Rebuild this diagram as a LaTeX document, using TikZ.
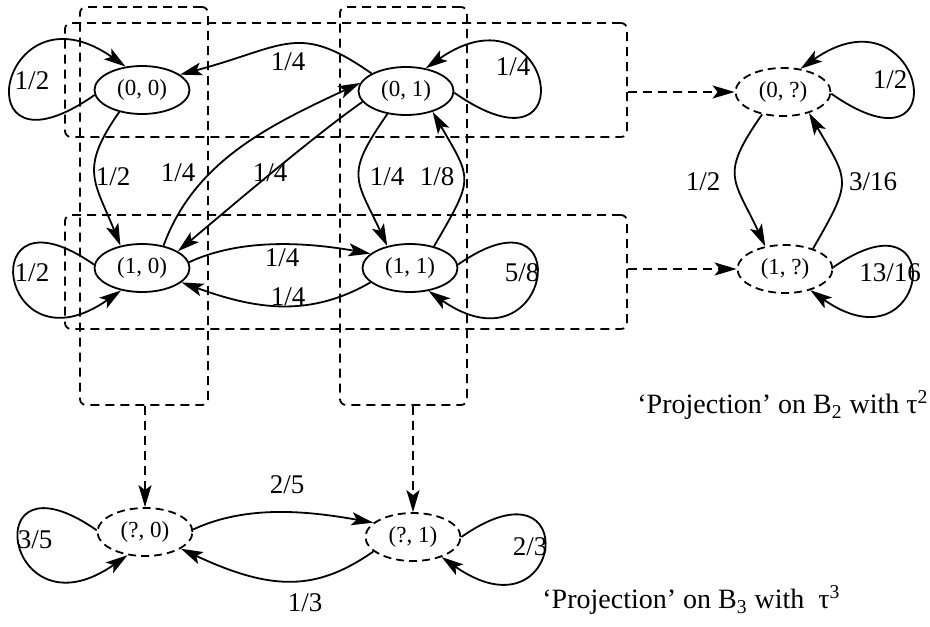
\documentclass[tikz,border=0pt]{standalone}
\usepackage{fontspec}
\setmainfont{Liberation Serif}
\usetikzlibrary{arrows.meta,shapes.geometric}

\tikzset{
	stnode/.style={draw, ellipse, line width=0.9pt, minimum width=47.5pt, minimum height=24pt,
		inner sep=0pt, font=\fontsize{11.5}{13}\selectfont},
	prjnode/.style={stnode, dash pattern=on 4pt off 2.5pt},
	trans/.style={line width=0.9pt, -{Stealth[length=11pt,width=6.5pt,inset=2.5pt]}},
	prjline/.style={line width=0.9pt, dash pattern=on 4.5pt off 3pt,
		-{Stealth[length=11pt,width=6.5pt,inset=2.5pt]}},
	grpbox/.style={draw, line width=0.9pt, dash pattern=on 4.5pt off 3pt, rounded corners=3pt, inner sep=0pt},
	lbl/.style={font=\fontsize{13.5}{15}\selectfont, inner sep=0pt},
	caption/.style={font=\fontsize{14}{16}\selectfont, inner sep=0pt, anchor=west},
}

\begin{document}
\begin{tikzpicture}[x=0.5pt, y=0.5pt]
	\useasboundingbox (0,0) rectangle (930,-626);

	% dashed groups
	\node[grpbox, minimum width=281pt, minimum height=57pt] (row0) at (346,-80) {};
	\node[grpbox, minimum width=281pt, minimum height=57pt] (row1) at (346,-272) {};
	\node[grpbox, minimum width=64pt, minimum height=199pt] (col0) at (144,-206) {};
	\node[grpbox, minimum width=63.5pt, minimum height=199pt] (col1) at (403.5,-206) {};

	% states
	\node[stnode] (n00) at (142,-90) {(0, 0)};
	\node[stnode] (n01) at (406,-91) {(0, 1)};
	\node[stnode] (n10) at (142,-268) {(1, 0)};
	\node[stnode] (n11) at (410,-268) {(1, 1)};
	\node[prjnode] (p0) at (783,-92) {(0, ?)};
	\node[prjnode] (p1) at (785,-269) {(1, ?)};
	\node[prjnode] (q0) at (145,-532) {(?, 0)};
	\node[prjnode] (q1) at (413,-537) {(?, 1)};

	% projections
	\draw[prjline] (row0.east |- p0.west) -- (p0.west);
	\draw[prjline] (row1.east |- p1.west) -- (p1.west);
	\draw[prjline] (col0.south -| q0.north) -- (q0.north);
	\draw[prjline] (col1.south -| q1.north) -- (q1.north);

	% full chain
	\draw[trans] (n00.186) .. controls +(215:165) and +(145:155) .. (n00.125);
	\draw[trans] (n01.153) .. controls +(145:90) and +(15:110) .. (n00.22);
	\draw[trans] (n00.224) .. controls +(235:70) and +(112:70) .. (n10.134);
	\draw[trans] (n10.46) .. controls +(70:90) and +(205:100) .. (n01.170);
	\draw[trans] (n01.194) .. controls +(215:60) and +(40:60) .. (n10.25);
	\draw[trans] (n01.231) .. controls +(235:75) and +(115:75) .. (n11.136);
	\draw[trans] (n11.42) .. controls +(60:80) and +(300:80) .. (n01.322);
	\draw[trans] (n01.358) .. controls +(325:165) and +(35:155) .. (n01.49);
	\draw[trans] (n10.7) .. controls +(25:60) and +(170:60) .. (n11.160);
	\draw[trans] (n11.200) .. controls +(210:70) and +(340:80) .. (n10.340);
	\draw[trans] (n10.176) .. controls +(145:150) and +(215:150) .. (n10.227);
	\draw[trans] (n11.4) .. controls +(35:150) and +(325:150) .. (n11.309);

	% B2 chain
	\draw[trans] (p0.358) .. controls +(325:160) and +(35:150) .. (p0.53);
	\draw[trans] (p0.227) .. controls +(235:75) and +(115:75) .. (p1.131);
	\draw[trans] (p1.36) .. controls +(60:80) and +(300:80) .. (p0.321);
	\draw[trans] (p1.2) .. controls +(35:145) and +(325:145) .. (p1.320);

	% B3 chain
	\draw[trans] (q0.178) .. controls +(145:150) and +(215:150) .. (q0.233);
	\draw[trans] (q0.3) .. controls +(25:60) and +(170:65) .. (q1.160);
	\draw[trans] (q1.200) .. controls +(215:70) and +(335:100) .. (q0.335);
	\draw[trans] (q1.0) .. controls +(35:150) and +(325:150) .. (q1.325);

	% probabilities
	\node[lbl] (l1) at (32,-81) {1/2};
	\node[lbl] (l2) at (288,-62) {1/4};
	\node[lbl] (l3) at (113,-177) {1/2};
	\node[lbl] (l4) at (178,-173) {1/4};
	\node[lbl] (l5) at (270,-173) {1/4};
	\node[lbl] (l6) at (513,-67) {1/4};
	\node[lbl] (l7) at (387,-177) {1/4};
	\node[lbl] (l8) at (437,-177) {1/8};
	\node[lbl] (l9) at (32,-273) {1/2};
	\node[lbl] (l10) at (282,-258) {1/4};
	\node[lbl] (l11) at (288,-297) {1/4};
	\node[lbl] (l12) at (522,-273) {5/8};
	\node[lbl] (l13) at (890,-80) {1/2};
	\node[lbl] (l14) at (703,-182) {1/2};
	\node[lbl] (l15) at (873,-182) {3/16};
	\node[lbl] (l16) at (890,-273) {13/16};
	\node[lbl] (l17) at (35,-540) {3/5};
	\node[lbl] (l18) at (287,-485) {2/5};
	\node[lbl] (l19) at (305,-603) {1/3};
	\node[lbl] (l20) at (530,-547) {2/3};

	\node[caption] (cap2) at (637,-405) {‘Projection’ on B\textsubscript{2} with τ\textsuperscript{2}};
	\node[caption] (cap3) at (542,-600) {‘Projection’ on B\textsubscript{3} with \ τ\textsuperscript{3}};
\end{tikzpicture}
\end{document}
